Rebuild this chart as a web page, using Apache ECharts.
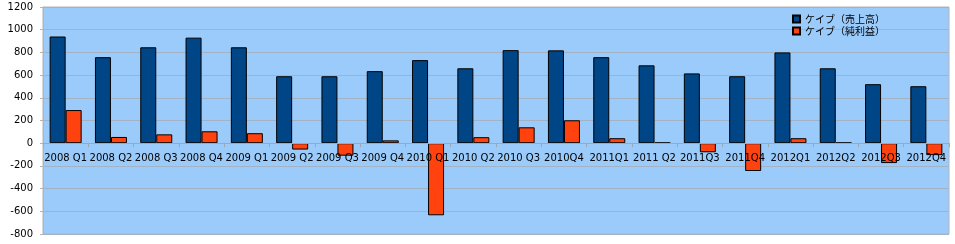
<!DOCTYPE html>
<html><head><meta charset="utf-8">
<script src="https://cdn.jsdelivr.net/npm/echarts@6/dist/echarts.min.js"></script>
<style>html,body{margin:0;padding:0;background:#fff}#c{width:955px;height:244px}</style>
</head><body><div id="c"></div>
<script>
const categories = ["2008 Q1","2008 Q2","2008 Q3","2008 Q4","2009 Q1","2009 Q2","2009 Q3","2009 Q4","2010 Q1","2010 Q2","2010 Q3","2010Q4","2011Q1","2011 Q2","2011Q3","2011Q4","2012Q1","2012Q2","2012Q3","2012Q4"];
const revenue = [940,758,845,930,845,590,590,635,732,660,820,818,758,686,615,590,800,660,520,502];
const profit = [292,55,78,105,88,-56,-110,25,-635,53,140,202,44,5,-80,-245,44,5,-175,-105];
const seriesNames = ["ケイブ（売上高）","ケイブ（純利益）"];
const yTicks = {min:-800, max:1200, interval:200};

const W = 955, H = 244;
const grid = {left:43,right:6,top:7,bottom:10};
const plotH = H - grid.top - grid.bottom;
// place the category axis where the value axis crosses zero
const zeroOffset = -plotH * (0 - yTicks.min) / (yTicks.max - yTicks.min);

const chart = echarts.init(document.getElementById('c'), null, {renderer:'canvas'});
chart.setOption({
  animation:false,
  backgroundColor:'#ffffff',
  grid:Object.assign({containLabel:false,outerBoundsMode:'none',show:true,backgroundColor:'#9bcbfa',borderColor:'#b4b4b4',borderWidth:1},grid),
  legend:{orient:'vertical',left:792,top:13,padding:0,icon:'rect',itemWidth:7,itemHeight:7,itemGap:0,
    textStyle:{fontFamily:'Noto Sans CJK JP',fontSize:10,lineHeight:12,color:'#000'},
    data:seriesNames},
  xAxis:{type:'category',data:categories,position:'bottom',offset:zeroOffset,z:5,
    axisLine:{onZero:false,lineStyle:{color:'#a0a8b0',width:1}},
    axisTick:{show:true,length:4,lineStyle:{color:'#a0a8b0'}},
    axisLabel:{interval:0,margin:10,color:'#000',fontFamily:'DejaVu Sans',fontSize:10,hideOverlap:false},
    splitLine:{show:false}},
  yAxis:{type:'value',min:yTicks.min,max:yTicks.max,interval:yTicks.interval,
    axisLine:{show:true,lineStyle:{color:'#b4b4b4'}},
    axisTick:{show:true,length:3,lineStyle:{color:'#b4b4b4'}},
    axisLabel:{color:'#000',fontFamily:'DejaVu Sans',fontSize:10,margin:10,formatter:function(v){return String(v);}},
    splitLine:{show:true,lineStyle:{color:'#a3b3c3',width:1}}},
  series:[
    {name:seriesNames[0],type:'bar',data:revenue,barWidth:16,barGap:'0%',
     itemStyle:{color:'#004586',borderColor:'#000',borderWidth:1}},
    {name:seriesNames[1],type:'bar',data:profit,barWidth:16,barGap:'0%',
     itemStyle:{color:'#ff420e',borderColor:'#000',borderWidth:1}}
  ]
});
</script></body></html>
